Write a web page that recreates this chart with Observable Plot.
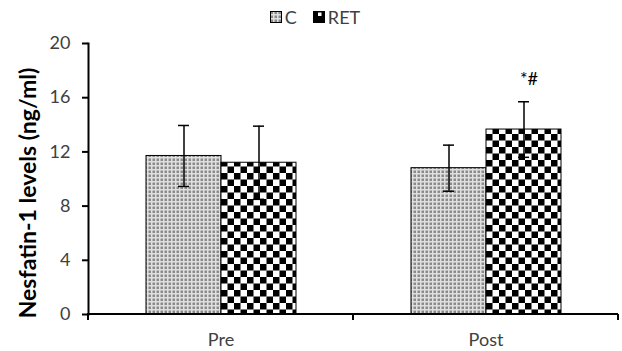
<!DOCTYPE html>
<html><head><meta charset="utf-8">
<script src="https://cdn.jsdelivr.net/npm/d3@7"></script>
<script src="https://cdn.jsdelivr.net/npm/@observablehq/plot@0.6"></script>
<style>
body{margin:0;background:#fff;font-family:Lato,"Open Sans",sans-serif}
#legend{height:30px;display:flex;justify-content:center;align-items:center;font-size:18px;color:#404040;padding:4px 0 0 8px;box-sizing:border-box}
#legend .item{display:flex;align-items:center;margin:0 8px}
#legend svg{margin-right:3px}
</style></head><body>
<svg width="0" height="0" style="position:absolute"><defs>
<pattern id="dots" width="4" height="4" patternUnits="userSpaceOnUse"><rect width="4" height="4" fill="#e0e0e0"/><rect x="0.5" y="0.5" width="2.5" height="2.5" fill="#8a8a8a"/></pattern>
<pattern id="checker" width="13" height="13" patternUnits="userSpaceOnUse"><rect width="13" height="13" fill="#fff"/><rect width="6.5" height="6.5" fill="#000"/><rect x="6.5" y="6.5" width="6.5" height="6.5" fill="#000"/></pattern>
<pattern id="checkerSmall" width="10" height="10" patternUnits="userSpaceOnUse"><rect width="10" height="10" fill="#000"/><rect x="5" y="1.5" width="3.5" height="3.5" fill="#fff"/></pattern>
</defs></svg>
<div id="legend"></div>
<div id="chart"></div>
<script>
const categories = ["Pre", "Post"];
const series = ["C", "RET"];
const meanC = [11.7, 10.8];
const meanRET = [11.2, 13.65];
const sdC = [2.25, 1.7];
const sdRET = [2.7, 2.05];
const notesC = ["", ""];
const notesRET = ["", "*#"];
const yTicks = [0, 4, 8, 12, 16, 20];
const yLabel = "Nesfatin-1 levels (ng/ml)";
const fills = ["url(#dots)", "url(#checker)"];
const legendFills = ["url(#dots)", "url(#checkerSmall)"];

const rows = [];
categories.forEach((cat, i) => {
  rows.push({cat, s: "C", v: meanC[i], sd: sdC[i], note: notesC[i]});
  rows.push({cat, s: "RET", v: meanRET[i], sd: sdRET[i], note: notesRET[i]});
});

// legend
const legend = d3.select("#legend");
series.forEach((s, i) => {
  const it = legend.append("div").attr("class", "item");
  const sw = it.append("svg").attr("width", 12).attr("height", 12);
  sw.append("rect").attr("x", 0.5).attr("y", 0.5).attr("width", 11).attr("height", 11)
    .attr("fill", legendFills[i]).attr("stroke", "#000").attr("stroke-width", 1);
  it.append("span").text(s);
});

function xAxisLine(index, scales, values, dims) {
  const {marginLeft, marginRight, width} = dims;
  const y0 = scales.y(0);
  const x0 = marginLeft, x1 = width - marginRight;
  const g = d3.create("svg:g").attr("stroke", "#000").attr("stroke-width", 2);
  g.append("line").attr("x1", x0 - 1).attr("x2", x1).attr("y1", y0).attr("y2", y0);
  for (const x of [x0, x1]) g.append("line").attr("x1", x).attr("x2", x).attr("y1", y0).attr("y2", y0 + 6);
  return g.node();
}

const chart = Plot.plot({
  width: 622, height: 321,
  marginTop: 13, marginBottom: 37, marginLeft: 88, marginRight: 4,
  style: {fontFamily: "Lato, 'Open Sans', sans-serif", fontSize: "18px", color: "#404040", background: "#fff"},
  fx: {domain: categories, padding: 0, label: null},
  x: {domain: series, paddingInner: 0, paddingOuter: 0.75, axis: null},
  y: {domain: [0, 20], label: null},
  color: {type: "ordinal", domain: series, range: fills},
  marks: [
    Plot.barY(rows, {fx: "cat", x: "s", y: "v", fill: "s", stroke: "#000", strokeWidth: 1}),
    Plot.ruleX(rows, {fx: "cat", x: "s", y1: d => d.v - d.sd, y2: d => d.v + d.sd, stroke: "#000", strokeWidth: 1.5}),
    Plot.tickY(rows, {fx: "cat", x: "s", y: d => d.v + d.sd, insetLeft: 32, insetRight: 32, stroke: "#000", strokeWidth: 1.5}),
    Plot.tickY(rows, {fx: "cat", x: "s", y: d => d.v - d.sd, insetLeft: 32, insetRight: 32, stroke: "#000", strokeWidth: 1.5}),
    Plot.text(rows, {fx: "cat", x: "s", y: d => d.v + d.sd, text: "note", dy: -23, dx: 5, fontSize: 18, fill: "#000"}),
    Plot.axisY({ticks: yTicks, tickSize: 6, tickPadding: 12, stroke: "#000", strokeWidth: 2, fill: "#404040", fontSize: 18, label: null}),
    Plot.axisFx({anchor: "bottom", tickSize: 0, tickPadding: 19, fontSize: 18, fill: "#404040", label: null}),
    Plot.text([yLabel], {frameAnchor: "left", textAnchor: "middle", rotate: -90, dx: -60, dy: 14, fontWeight: "bold", fontSize: 23, fill: "#000", facetAnchor: "left"}),
    Plot.frame({anchor: "left", facetAnchor: "left", stroke: "#000", strokeWidth: 2}),
    xAxisLine
  ]
});
document.getElementById("chart").appendChild(chart);
</script>
</body></html>
